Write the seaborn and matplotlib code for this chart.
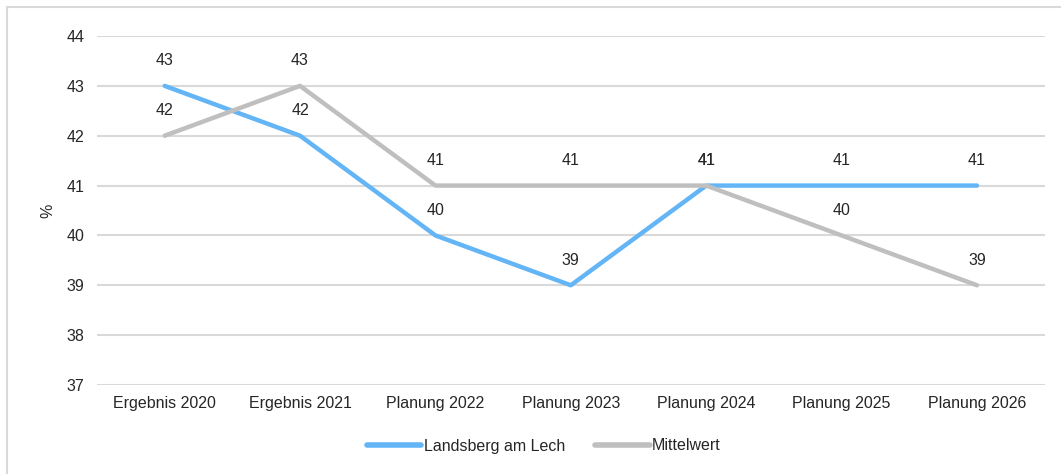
import pandas as pd
import matplotlib.pyplot as plt
import seaborn as sns
from matplotlib.patches import Rectangle

categories = ['Ergebnis 2020', 'Ergebnis 2021', 'Planung 2022', 'Planung 2023',
              'Planung 2024', 'Planung 2025', 'Planung 2026']
landsberg = [43, 42, 40, 39, 41, 41, 41]
mittelwert = [42, 43, 41, 41, 41, 40, 39]
series_names = ['Landsberg am Lech', 'Mittelwert']
colors = ['#64B5F6', '#BFBFBF']

df = pd.DataFrame({
    'Jahr': categories * 2,
    'Wert': landsberg + mittelwert,
    'Reihe': [series_names[0]] * len(categories) + [series_names[1]] * len(categories),
})

sns.set_theme(style='white')
plt.rcParams['font.family'] = ['Liberation Sans', 'DejaVu Sans']

fig = plt.figure(figsize=(10.61, 4.74), dpi=100)
ax = fig.add_axes([0.0914, 0.1878, 0.8932, 0.7362])

sns.lineplot(data=df, x='Jahr', y='Wert', hue='Reihe', palette=colors,
             linewidth=3.2, sort=False, ax=ax, legend=True,
             solid_capstyle='round')

# Datenbeschriftungen über den Punkten
for vals in [landsberg, mittelwert]:
    for i, v in enumerate(vals):
        ax.annotate(f'{v}', (i, v), xytext=(0, 18), textcoords='offset points',
                    ha='center', va='center', fontsize=11.5, color='#262626')

ax.set_xlim(-0.5, len(categories) - 0.5)
ax.set_ylim(37, 44)
ax.set_yticks(range(37, 45))
ax.yaxis.grid(True, color='#D9D9D9', linewidth=1.5)
ax.set_axisbelow(True)
for s in ax.spines.values():
    s.set_visible(False)
ax.tick_params(axis='both', length=0, labelsize=11.5, labelcolor='#262626')
ax.tick_params(axis='y', pad=9)
ax.tick_params(axis='x', pad=8)
ax.set_xlabel('')
ax.set_ylabel('%', fontsize=11.5, color='#262626', labelpad=8)

leg = ax.legend(loc='center', bbox_to_anchor=(544 / 1061, 28 / 474),
                bbox_transform=fig.transFigure, ncol=2, frameon=False,
                fontsize=11.5, handlelength=3.4, handletextpad=0.15,
                columnspacing=1.9)
for line in leg.get_lines():
    line.set_linewidth(4)
    line.set_solid_capstyle('round')

# Rahmen um das Diagramm
fig.patches.append(Rectangle((7 / 1061, -0.1), 1.2, (474 - 7) / 474 + 0.1,
                             transform=fig.transFigure, fill=False,
                             edgecolor='#D9D9D9', linewidth=1.5))

fig.savefig('out.png', dpi=100)
